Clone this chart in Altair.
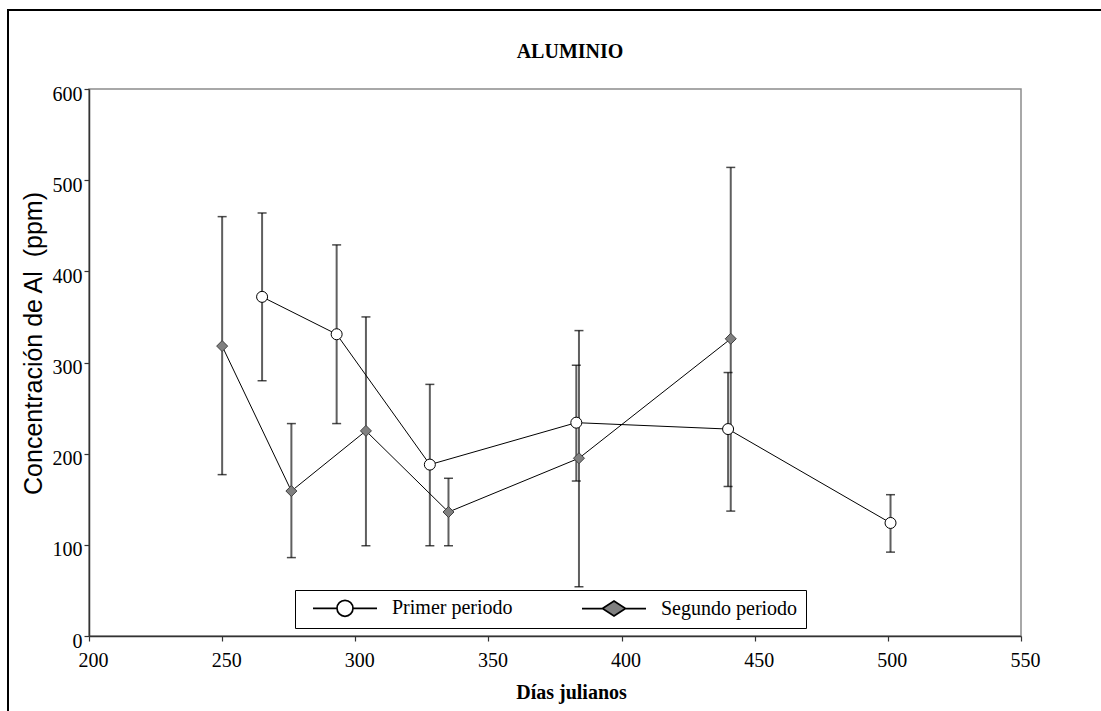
import altair as alt
import pandas as pd

# ---- data ----
p1_day = [265, 293, 328, 383, 440, 501]
p1_mean = [372, 331, 188, 234, 227, 124]
p1_lo = [280, 233, 99, 170, 164, 92]
p1_hi = [464, 429, 276, 297, 289, 155]

p2_day = [250, 276, 304, 335, 384, 441]
p2_mean = [318, 159, 225, 136, 195, 326]
p2_lo = [177, 86, 99, 99, 54, 137]
p2_hi = [460, 233, 350, 173, 335, 514]

series_names = ["Primer periodo", "Segundo periodo"]
x_ticks = [200, 250, 300, 350, 400, 450, 500, 550]
y_ticks = [0, 100, 200, 300, 400, 500, 600]

df = pd.concat([
    pd.DataFrame({"day": p1_day, "value": p1_mean, "lo": p1_lo, "hi": p1_hi,
                  "series": series_names[0]}),
    pd.DataFrame({"day": p2_day, "value": p2_mean, "lo": p2_lo, "hi": p2_hi,
                  "series": series_names[1]}),
], ignore_index=True)

SERIF = "Liberation Serif"
SANS = "Liberation Sans"

xscale = alt.Scale(domain=[200, 550], nice=False, zero=False)
yscale = alt.Scale(domain=[0, 600], nice=False, zero=False)

xaxis = alt.Axis(values=x_ticks, title="Días julianos", titleFont=SERIF,
                 titleFontSize=20, titleFontWeight="bold", titleColor="black",
                 titleX=482, titleY=56, titleAlign="center", titleBaseline="middle",
                 labelOffset=4, labelPadding=9, labelFlush=False, grid=False)
yaxis = alt.Axis(values=y_ticks, title="Concentración de Al\u00a0 (ppm)", titleFont=SANS,
                 titleFontSize=25, titleFontWeight="normal", titleColor="black",
                 titleAngle=270, titleX=-56, titleY=254, titleAlign="center",
                 titleBaseline="middle", labelOffset=5, labelPadding=2,
                 labelFlush=False, grid=False)

base = alt.Chart(df)
X = alt.X("day:Q", scale=xscale, axis=xaxis)
Y = alt.Y("value:Q", scale=yscale, axis=yaxis)

# outer frame of the figure
frame = base.mark_rect(fill=None, stroke="black", strokeWidth=2).encode(
    x=alt.value(-81), x2=alt.value(1030), y=alt.value(-79), y2=alt.value(640)
).transform_filter("datum.day == 250")

bars = base.mark_rule(color="#5f5f5f", strokeWidth=2).encode(
    x=X, y=alt.Y("lo:Q", scale=yscale, axis=yaxis), y2="hi:Q")
cap_lo = base.mark_tick(orient="horizontal", color="black", size=9, thickness=1.5).encode(
    x=X, y=alt.Y("lo:Q", scale=yscale, axis=yaxis))
cap_hi = base.mark_tick(orient="horizontal", color="black", size=9, thickness=1.5).encode(
    x=X, y=alt.Y("hi:Q", scale=yscale, axis=yaxis))

lines = base.mark_line(color="black", strokeWidth=1).encode(
    x=X, y=Y, detail="series:N", order="day:Q")

pts1 = base.mark_point(shape="circle", filled=True, fill="white", stroke="black",
                       strokeWidth=1, size=121, opacity=1).encode(x=X, y=Y).transform_filter(
    alt.datum.series == series_names[0])
pts2 = base.mark_point(shape="diamond", filled=True, fill="#808080", stroke="#404040",
                       strokeWidth=1, size=121, opacity=1).encode(x=X, y=Y).transform_filter(
    alt.datum.series == series_names[1])

# legend symbols: line with marker (unit = 8 px)
circle_path = "M-4,0L-1,0M1,0L4,0M-1,0A1,1,0,1,1,1,0A1,1,0,1,1,-1,0Z"
diamond_path = "M-4,0L-1.44,0M1.44,0L4,0M-1.44,0L0,-0.94L1.44,0L0,0.94Z"

leg = alt.Legend(title=None, orient="none", legendX=206, legendY=501,
                 direction="horizontal", labelFont=SERIF, labelFontSize=20,
                 labelColor="black", labelOffset=37, columnPadding=59,
                 symbolOffset=32,
                 symbolSize=256, symbolStrokeWidth=1.7, symbolStrokeColor="black",
                 strokeColor="black", fillColor="white", padding=8)

legend_layer = base.mark_point(filled=True, strokeWidth=1.7, size=256, opacity=1).encode(
    shape=alt.Shape("series:N", scale=alt.Scale(domain=series_names,
                                                range=[circle_path, diamond_path]),
                    legend=leg),
    fill=alt.Fill("series:N", scale=alt.Scale(domain=series_names,
                                              range=["white", "#808080"]),
                  legend=leg),
    stroke=alt.Stroke("series:N", scale=alt.Scale(domain=series_names,
                                                  range=["black", "black"]),
                      legend=leg),
).transform_filter("datum.day < 0")

chart = alt.layer(frame, bars, cap_lo, cap_hi, lines, pts1, pts2, legend_layer).properties(
    width=932, height=547,
    title=alt.TitleParams("ALUMINIO", font=SERIF, fontSize=20, fontWeight="bold",
                          color="black", anchor="middle", dx=15, dy=57),
    autosize=alt.AutoSizeParams(type="none"),
    padding={"left": 89, "top": 89, "right": 80, "bottom": 75},
    background="white",
).configure_view(stroke="#8c8c8c", strokeWidth=1.5).configure_axis(
    grid=False, labelFont=SERIF, labelFontSize=20, labelColor="black",
    tickColor="#333333", tickSize=5, tickWidth=1.2, domainColor="#333333", domainWidth=1.5
)

chart.save("out.html", embed_options={"renderer": "svg", "actions": False})
